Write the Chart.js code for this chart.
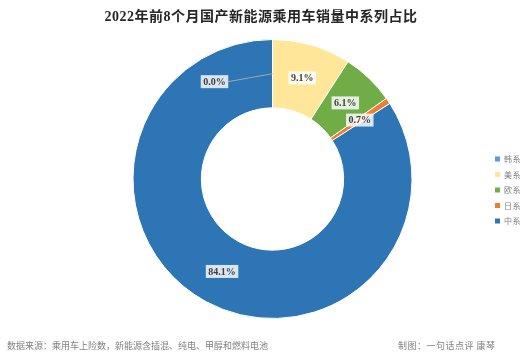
<!DOCTYPE html>
<html>
<head>
<meta charset="utf-8">
<script src="https://cdn.jsdelivr.net/npm/chart.js@4.4.1/dist/chart.umd.min.js"></script>
<style>
  html, body { margin: 0; padding: 0; background: #fff; }
  canvas { display: block; }
</style>
</head>
<body>
<canvas id="grafico" width="530" height="354"></canvas>
<script>
// datos
const categorias = ['韩系', '美系', '欧系', '日系', '中系'];
const porcentajes = [0.0, 9.1, 6.1, 0.7, 84.1];
const colores = ['#5B9BD5', '#FFE699', '#70AD47', '#ED7D31', '#2E75B6'];

const titulo = '2022年前8个月国产新能源乘用车销量中系列占比';
const notaFuente = '数据来源：乘用车上险数，新能源含插混、纯电、甲醇和燃料电池';
const notaAutor = '制图：一句话点评 康琴';

const fuenteCJK = '"Liberation Serif", "Noto Sans CJK SC", serif';

// textos, leyenda y etiquetas
const decorado = {
    id: 'decorado',
    afterDatasetsDraw(chart) {
        const ctx = chart.ctx;
        const meta = chart.getDatasetMeta(0);

        // etiquetas de datos
        ctx.save();
        ctx.font = 'bold 10px "Liberation Serif", serif';
        ctx.textAlign = 'center';
        ctx.textBaseline = 'middle';
        meta.data.forEach((arc, i) => {
            const p = arc.tooltipPosition();
            let x = p.x, y = p.y;
            const txt = porcentajes[i].toFixed(1) + '%';
            const w = ctx.measureText(txt).width + 5;
            const h = 13;
            if (porcentajes[i] === 0) {
                x = p.x - 58;
                y = p.y + 8;
                ctx.strokeStyle = '#A6A6A6';
                ctx.lineWidth = 1;
                ctx.beginPath();
                ctx.moveTo(x + w / 2, y);
                ctx.lineTo(p.x, p.y);
                ctx.stroke();
            }
            ctx.fillStyle = 'rgba(255,255,255,0.82)';
            ctx.fillRect(x - w / 2, y - h / 2, w, h);
            ctx.fillStyle = '#404040';
            ctx.fillText(txt, x, y + 0.5);
        });
        ctx.restore();
    },
    afterDraw(chart) {
        const ctx = chart.ctx;
        ctx.save();

        // titulo
        ctx.fillStyle = '#262626';
        ctx.font = 'bold 14px ' + fuenteCJK;
        ctx.letterSpacing = '0.5px';
        ctx.textAlign = 'center';
        ctx.textBaseline = 'middle';
        ctx.fillText(titulo, 261, 17);

        // leyenda
        ctx.letterSpacing = '0.5px';
        ctx.font = '8px "Noto Sans CJK SC", sans-serif';
        ctx.textAlign = 'left';
        categorias.forEach((c, i) => {
            const y = 159 + i * 15.5;
            ctx.fillStyle = colores[i];
            ctx.fillRect(495, y - 2.5, 5, 5);
            ctx.fillStyle = '#7F7F7F';
            ctx.fillText(c, 504, y);
        });

        // notas
        ctx.letterSpacing = '0px';
        ctx.font = '9px "Noto Sans CJK SC", sans-serif';
        ctx.fillStyle = '#808080';
        ctx.fillText(notaFuente, 7, 346);
        ctx.letterSpacing = '0.5px';
        ctx.fillText(notaAutor, 398, 346);
        ctx.restore();
    }
};

new Chart(document.getElementById('grafico'), {
    type: 'doughnut',
    data: {
        labels: categorias,
        datasets: [{
            data: porcentajes,
            backgroundColor: colores,
            borderColor: '#FFFFFF',
            borderWidth: 1
        }]
    },
    options: {
        responsive: false,
        animation: false,
        cutout: '51%',
        layout: {
            padding: { top: 39, bottom: 35, left: 132, right: 117 }
        },
        plugins: {
            legend: { display: false },
            tooltip: { enabled: false }
        }
    },
    plugins: [decorado]
});
</script>
</body>
</html>
